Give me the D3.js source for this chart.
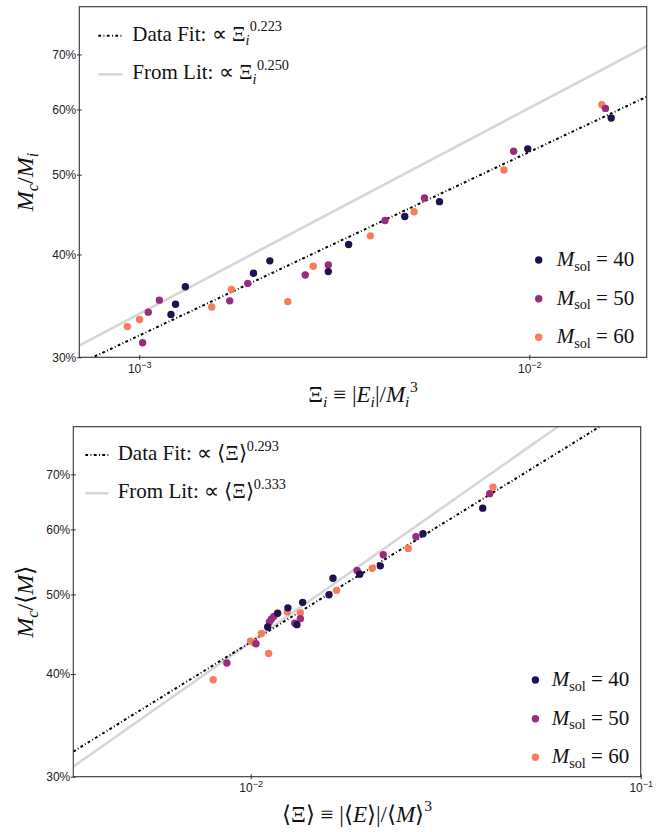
<!DOCTYPE html>
<html><head><meta charset="utf-8">
<script src="https://cdn.jsdelivr.net/npm/d3@7"></script>
<style>body{margin:0;background:#fff} text{white-space:pre}</style>
</head><body>
<svg id="c" width="662" height="832"></svg>
<script>
// ---------- data ----------
const seriesNames = ["40", "50", "60"];
const seriesColors = ["#221150", "#982d80", "#f97b5d"];

const topXi40 = [0.01622, 0.00991, 0.005886, 0.004795, 0.003442, 0.003053, 0.002162, 0.001963, 0.001313, 0.001239, 0.001206];
const topFrac40 = [0.586, 0.5375, 0.4637, 0.4449, 0.4113, 0.3813, 0.3929, 0.3795, 0.3654, 0.348, 0.3381];
const topXi50 = [0.01568, 0.009119, 0.005386, 0.004267, 0.003053, 0.002665, 0.001898, 0.001706, 0.001126, 0.001055, 0.00102];
const topFrac50 = [0.6019, 0.534, 0.4684, 0.4399, 0.3885, 0.3777, 0.3689, 0.3513, 0.352, 0.3404, 0.3125];
const topXi60 = [0.01535, 0.00861, 0.005066, 0.003914, 0.002794, 0.002404, 0.001723, 0.001534, 0.001002, 0.000932];
const topFrac60 = [0.608, 0.5067, 0.4507, 0.4214, 0.387, 0.3506, 0.3627, 0.3454, 0.3334, 0.3269];

const botXi40 = [0.03935, 0.02766, 0.0215, 0.01904, 0.01626, 0.01588, 0.01359, 0.01246, 0.01314, 0.01173, 0.01106];
const botFrac40 = [0.6367, 0.5926, 0.5417, 0.529, 0.5232, 0.4996, 0.489, 0.4815, 0.4594, 0.4742, 0.4564];
const botXi50 = [0.04101, 0.02653, 0.02188, 0.01874, 0.01341, 0.01297, 0.01147, 0.0113, 0.01117, 0.01032, 0.00869];
const botFrac50 = [0.6631, 0.5877, 0.5587, 0.5346, 0.4672, 0.4612, 0.4702, 0.4665, 0.4629, 0.4354, 0.4125];
const botXi60 = [0.04182, 0.02536, 0.0205, 0.0166, 0.01341, 0.01241, 0.01066, 0.009988, 0.01018, 0.01112, 0.008014];
const botFrac60 = [0.6754, 0.5687, 0.5381, 0.5057, 0.4748, 0.4761, 0.4481, 0.4387, 0.4369, 0.4237, 0.3936];

const topXDomain = [7.02e-4, 2.0e-2];
const botXDomain = [3.51e-3, 0.1];
const yDomain = [0.3, 0.8];
const yTicks = [0.3, 0.4, 0.5, 0.6, 0.7];
const topXTicks = [1e-3, 1e-2];
const botXTicks = [1e-2, 1e-1];

const topFit = {amp: 1.488, exp: 0.223, label: "0.223"};
const topLit = {amp: 1.905, exp: 0.250, label: "0.250"};
const botFit = {amp: 1.686, exp: 0.293, label: "0.293"};
const botLit = {amp: 2.027, exp: 0.333, label: "0.333"};

// ---------- helpers ----------
const SERIF = "'Liberation Serif', 'Times New Roman', serif";
const SANS = "'Liberation Sans', Arial, sans-serif";
const svg = d3.select("#c");

function mtext(g, x, y, parts, fs, anchor) {
  const t = g.append("text").attr("x", x).attr("y", y)
    .attr("font-family", SERIF).attr("font-size", fs)
    .attr("text-anchor", anchor || "start").attr("fill", "#111");
  let cur = 0;
  parts.forEach(p => {
    const off = p.sub ? 0.22 * fs : p.sup ? -0.45 * fs : 0;
    const ts = t.append("tspan").text(p.t).attr("dy", off - cur);
    cur = off;
    if (p.sub || p.sup) ts.attr("font-size", fs * 0.68);
    if (p.it) ts.attr("font-style", "italic");
    if (p.dx) ts.attr("dx", p.dx);
  });
  return t;
}

function panel(cfg) {
  const g = svg.append("g");
  const x = d3.scaleLog().domain(cfg.xDomain).range([cfg.left, cfg.right]);
  const y = d3.scaleLog().domain(yDomain).range([cfg.bottom, cfg.top]);
  const clipId = "clip" + cfg.id;
  svg.append("clipPath").attr("id", clipId).append("rect")
    .attr("x", cfg.left).attr("y", cfg.top)
    .attr("width", cfg.right - cfg.left).attr("height", cfg.bottom - cfg.top);

  // fit lines
  const lg = g.append("g").attr("clip-path", `url(#${clipId})`);
  const line = d3.line().x(d => x(d[0])).y(d => y(d[1]));
  const pts = f => cfg.xDomain.map(v => [v, f.amp * Math.pow(v, f.exp)]);
  lg.append("path").attr("d", line(pts(cfg.lit))).attr("fill", "none")
    .attr("stroke", "#d6d6d6").attr("stroke-width", 2.6);
  lg.append("path").attr("d", line(pts(cfg.fit))).attr("fill", "none")
    .attr("stroke", "#000").attr("stroke-width", 2)
    .attr("stroke-dasharray", "2.8,2.4,0.9,2.4");

  // points (drawn 60, 50, 40)
  [2, 1, 0].forEach(i => {
    const xs = cfg.xs[i], ys = cfg.ys[i];
    g.append("g").selectAll("circle").data(xs.map((v, k) => [v, ys[k]])).join("circle")
      .attr("cx", d => x(d[0])).attr("cy", d => y(d[1])).attr("r", 3.7)
      .attr("fill", seriesColors[i]);
  });

  // frame
  g.append("rect").attr("x", cfg.left).attr("y", cfg.top)
    .attr("width", cfg.right - cfg.left).attr("height", cfg.bottom - cfg.top)
    .attr("fill", "none").attr("stroke", "#333").attr("stroke-width", 1.1);

  // y axis
  const ya = g.append("g").attr("transform", `translate(${cfg.left},0)`)
    .call(d3.axisLeft(y).tickValues(yTicks).tickSize(0).tickPadding(3).tickFormat(d3.format(".0%")));
  ya.select(".domain").remove();
  ya.selectAll(".tick line").attr("x1", -2.5).attr("x2", 2.5).attr("stroke", "#333");
  ya.selectAll(".tick text").attr("font-family", SANS).attr("font-size", 12).attr("fill", "#222");

  // x axis
  const xa = g.append("g").attr("transform", `translate(0,${cfg.bottom})`)
    .call(d3.axisBottom(x).tickValues(cfg.xTicks).tickSize(0).tickFormat(""));
  xa.select(".domain").remove();
  xa.selectAll(".tick line").attr("y1", -2.5).attr("y2", 2.5).attr("stroke", "#333");
  xa.selectAll(".tick").each(function (d) {
    const t = d3.select(this).append("text").attr("y", 15.5).attr("text-anchor", "middle")
      .attr("font-family", SANS).attr("font-size", 12).attr("fill", "#222");
    t.append("tspan").text("10");
    t.append("tspan").text("\u2212" + Math.round(-Math.log10(d))).attr("dy", -5).attr("font-size", 9);
  });

  // axis titles
  mtext(g, (cfg.left + cfg.right) / 2, cfg.bottom + 45, cfg.xTitle, 23, "middle");
  const yt = mtext(g, 0, 0, cfg.yTitle, 24, "middle");
  yt.attr("transform", `translate(${cfg.yTitleX},${(cfg.top + cfg.bottom) / 2}) rotate(-90)`);

  // left legend
  const L = cfg.legend;
  const rows = [
    {dash: true, parts: [{t: "Data Fit: \u221D "}].concat(cfg.symParts, [{t: cfg.fit.label, sup: true, dx: cfg.supDx}])},
    {dash: false, parts: [{t: "From Lit: \u221D "}].concat(cfg.symParts, [{t: cfg.lit.label, sup: true, dx: cfg.supDx}])}
  ];
  rows.forEach((r, k) => {
    const by = cfg.top + L.rowY[k];
    g.append("line").attr("x1", cfg.left + L.x0).attr("x2", cfg.left + L.x1)
      .attr("y1", by - 5).attr("y2", by - 5)
      .attr("stroke", r.dash ? "#000" : "#d6d6d6").attr("stroke-width", r.dash ? 2 : 2.6)
      .attr("stroke-dasharray", r.dash ? "2.8,2.4,0.9,2.4" : null);
    mtext(g, cfg.left + L.tx, by, r.parts, 21);
  });

  // right legend
  [0, 1, 2].forEach(i => {
    const cy = cfg.bottom - cfg.rl.rows[i];
    g.append("circle").attr("cx", cfg.right - cfg.rl.mx).attr("cy", cy).attr("r", 3.7)
      .attr("fill", seriesColors[i]);
    mtext(g, cfg.right - cfg.rl.tx, cy + 6,
      [{t: "M", it: true}, {t: "sol", sub: true}, {t: " = " + seriesNames[i]}], 21);
  });
}

panel({
  id: "top", left: 79.3, right: 646.7, top: 6.7, bottom: 357.3,
  xDomain: topXDomain, xTicks: topXTicks,
  xs: [topXi40, topXi50, topXi60], ys: [topFrac40, topFrac50, topFrac60],
  fit: topFit, lit: topLit,
  symParts: [{t: "\u039E"}, {t: "i", sub: true, it: true}], supDx: 0.5,
  xTitle: [{t: "\u039E"}, {t: "i", sub: true, it: true}, {t: " \u2261 |"}, {t: "E", it: true},
           {t: "i", sub: true, it: true}, {t: "|/"}, {t: "M", it: true}, {t: "i", sub: true, it: true},
           {t: "3", sup: true, dx: 0.5}],
  yTitle: [{t: "M", it: true}, {t: "c", sub: true, it: true}, {t: "/"}, {t: "M", it: true}, {t: "i", sub: true, it: true}],
  yTitleX: 33,
  legend: {x0: 19, x1: 43, tx: 53, rowY: [34, 72.6]},
  rl: {mx: 108, tx: 90, rows: [97.3, 58.6, 20]}
});

panel({
  id: "bot", left: 73.3, right: 640.7, top: 426.7, bottom: 776.7,
  xDomain: botXDomain, xTicks: botXTicks,
  xs: [botXi40, botXi50, botXi60], ys: [botFrac40, botFrac50, botFrac60],
  fit: botFit, lit: botLit,
  symParts: [{t: "\u27E8\u039E\u27E9"}], supDx: 0,
  xTitle: [{t: "\u27E8\u039E\u27E9 \u2261 |\u27E8"}, {t: "E", it: true}, {t: "\u27E9|/\u27E8"}, {t: "M", it: true},
           {t: "\u27E9"}, {t: "3", sup: true}],
  yTitle: [{t: "M", it: true}, {t: "c", sub: true, it: true}, {t: "/\u27E8"}, {t: "M", it: true}, {t: "\u27E9"}],
  yTitleX: 33,
  legend: {x0: 12, x1: 35, tx: 44.4, rowY: [33.3, 71.6]},
  rl: {mx: 105.3, tx: 89, rows: [96.7, 58, 19.4]}
});
</script>
</body></html>
